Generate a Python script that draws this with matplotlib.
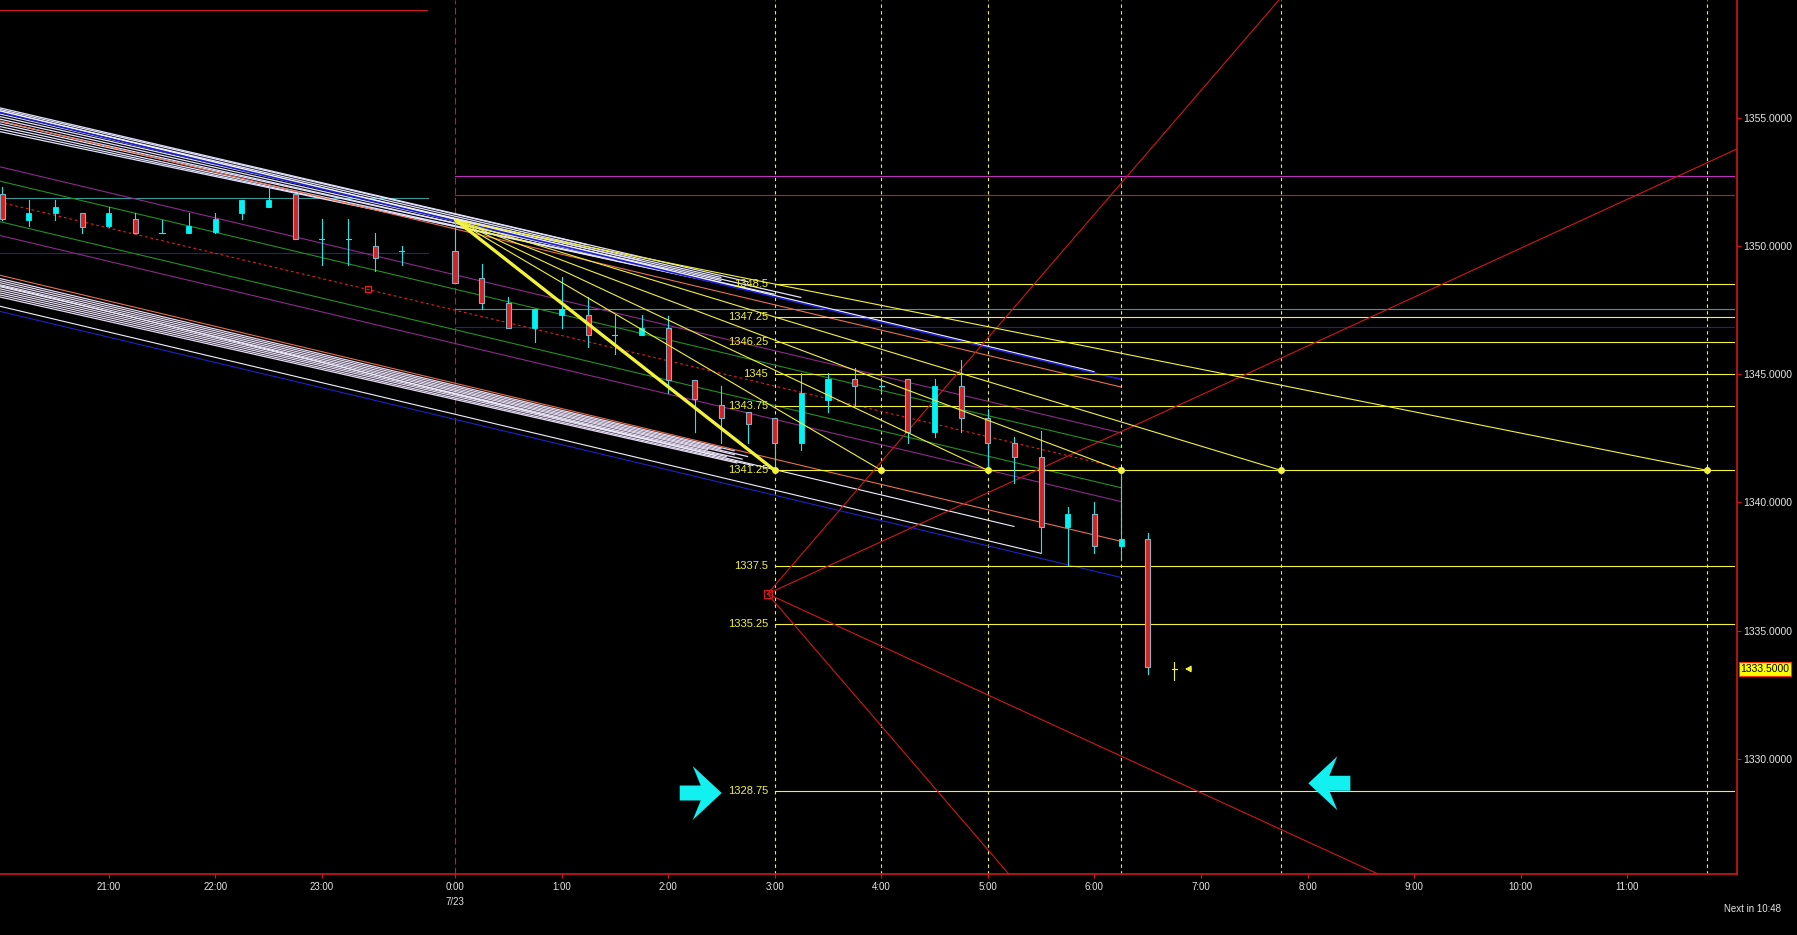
import matplotlib
matplotlib.use('Agg')
import matplotlib.pyplot as plt
import numpy as np
from matplotlib.patches import Rectangle, Polygon
from matplotlib import font_manager

# ---------------- data ----------------
bar_idx = list(range(-17, -1)) + list(range(0, 28))
opens  = [1352.02, 1351.02, 1351.28, 1351.28, 1350.79, 1351.05, 1350.52, 1350.52,
          1350.56, 1351.28, 1351.52, 1352.02, 1350.27, 1350.27, 1350.02, 1349.81,
          1349.81, 1348.77, 1347.77, 1346.79, 1347.31, 1347.31, 1346.53, 1346.53,
          1346.79, 1344.78, 1343.80, 1343.54, 1343.28, 1342.31, 1344.00, 1344.80,
          1344.54, 1344.80, 1342.76, 1344.54, 1343.28, 1342.31, 1341.78, 1339.03,
          1339.55, 1338.30, 1338.56, 1333.50]
highs  = [1352.30, 1351.80, 1351.80, 1351.30, 1351.54, 1351.30, 1351.02, 1351.28,
          1351.28, 1351.80, 1352.30, 1352.02, 1351.05, 1351.05, 1350.52, 1350.02,
          1351.00, 1349.30, 1348.03, 1347.55, 1348.78, 1348.00, 1347.31, 1347.31,
          1347.27, 1344.78, 1344.54, 1343.54, 1343.28, 1345.04, 1345.04, 1345.23,
          1344.80, 1344.80, 1344.80, 1345.56, 1343.63, 1342.54, 1342.80, 1339.81,
          1340.03, 1341.20, 1338.80, 1333.79]
lows   = [1351.02, 1350.79, 1351.02, 1350.52, 1350.74, 1350.52, 1350.52, 1350.52,
          1350.52, 1351.05, 1351.52, 1350.28, 1349.26, 1349.26, 1349.04, 1349.26,
          1348.55, 1347.54, 1346.79, 1346.27, 1346.79, 1346.08, 1345.79, 1346.53,
          1344.28, 1342.76, 1342.31, 1342.31, 1341.29, 1342.05, 1343.54, 1343.80,
          1344.30, 1342.31, 1342.54, 1342.76, 1341.29, 1340.77, 1338.04, 1337.56,
          1338.04, 1337.75, 1333.31, 1333.07]
closes = [1351.06, 1351.28, 1351.54, 1350.76, 1351.28, 1350.52, 1350.52, 1350.79,
          1351.05, 1351.80, 1351.80, 1350.28, 1350.27, 1350.27, 1349.53, 1349.81,
          1348.55, 1347.77, 1346.79, 1347.55, 1347.55, 1346.53, 1346.53, 1346.79,
          1344.78, 1344.02, 1343.28, 1343.06, 1342.31, 1344.28, 1344.80, 1344.54,
          1344.54, 1342.76, 1344.54, 1343.28, 1342.31, 1341.78, 1339.03, 1339.55,
          1338.30, 1338.56, 1333.57, 1333.50]

x_tick_pos = [-13, -9, -5, 0, 4, 8, 12, 16, 20, 24, 28, 32, 36, 40, 44]
x_tick_lbl = ['21:00', '22:00', '23:00', '0:00', '1:00', '2:00', '3:00', '4:00',
              '5:00', '6:00', '7:00', '8:00', '9:00', '10:00', '11:00']
y_ticks = [1330, 1335, 1340, 1345, 1350, 1355]
last_price = 1333.5

# regression channel: centre line
chan_end_val = 1341.33      # centre value at bar 25
chan_slope = -0.2467        # price per bar
chan_end = 25
mid_offsets = {'green': (0.82, -0.76), 'purple': (1.38, -1.30)}
upper_orange = 3.17
upper_blue = 3.50
upper_white_main = 3.56
upper_dense_left = [2.75, 2.85, 2.95, 3.05, 3.14, 3.24, 3.34, 3.44, 3.54, 3.62, 3.68]
upper_dense_right = [3.45, 3.48, 3.52, 3.55, 3.58, 3.62, 3.66, 3.70, 3.74, 3.78, 3.82]
upper_dense_end = [6, 9, 11, 8, 12, 10, 7, 13, 10, 5, 11]
lower_orange = -2.85
lower_blue = -4.26
lower_white_a = -3.26
lower_white_b = -4.06
lower_dense_left = [-2.98, -3.06, -3.14, -3.22, -3.30, -3.38, -3.46, -3.54, -3.62, -3.70]
lower_dense_right = [-2.90, -2.95, -3.00, -3.05, -3.10, -3.15, -3.20, -3.25, -3.30, -3.35]
lower_dense_end = [10.5, 10.0, 11.0, 10.5, 9.5, 10.8, 10.2, 9.8, 11.2, 10.6]
sq_marker_x = -3.28

# yellow fan
fan_origin = (0.04, 1351.0)
fan_targets_x = [12, 16, 20, 25, 31, 47]
fan_target_y = 1341.25
level_vals = [1348.5, 1347.25, 1346.25, 1345, 1343.75, 1341.25, 1337.5, 1335.25, 1328.75]
level_lbls = ['1348.5', '1347.25', '1346.25', '1345', '1343.75', '1341.25', '1337.5', '1335.25', '1328.75']
level_start = 12
vlines_yellow = [12, 16, 20, 25, 31, 47]

# red gann fan
gann_origin = (11.73, 1336.43)
gann_slopes = [1.207, 0.477, -0.477, -1.207]

# horizontal lines: (price, x_from, x_to, colour)
hlines = [(1359.2, -17.2, -1.07, '#d01818'),
          (1351.87, -17.2, -1.02, '#3a9a9a'),
          (1349.72, -17.2, -1.02, '#1c1cb0'),
          (1352.72, 0.0, 48.0, '#c030c0'),
          (1352.0, 0.0, 48.0, '#d01818'),
          (1347.55, 0.0, 48.0, '#3a9a9a'),
          (1346.84, 0.0, 48.0, '#1c1cb0')]

# cyan arrows (tip positions)
arrow_right_tip = (10.01, 1328.66)
arrow_left_tip = (32.03, 1329.04)

# ---------------- fonts ----------------
names = {f.name for f in font_manager.fontManager.ttflist}
FONT = 'Liberation Sans' if 'Liberation Sans' in names else 'DejaVu Sans'
plt.rcParams['font.family'] = [FONT, 'DejaVu Sans']

# ---------------- figure ----------------
W, H = 1797, 935
fig = plt.figure(figsize=(W / 100, H / 100), dpi=100, facecolor='black')
ax = fig.add_axes([0, 61 / H, 1737 / W, 874 / H], facecolor='black')
XL, XR = -17.08, 48.12
YB, YT = 1325.50, 1359.60
ax.set_xlim(XL, XR)
ax.set_ylim(YB, YT)
px_x = (XR - XL) / 1737.0
px_y = (YT - YB) / 874.0

RED = '#d01818'
YEL = '#f2f23a'
LW = 0.8


def center(x):
    return chan_end_val + chan_slope * (np.asarray(x, dtype=float) - chan_end)


def chan(off_l, off_r, x_end, **kw):
    xs = np.array([XL - 0.1, x_end])
    ys = center(xs) + np.array([off_l, off_r])
    ax.plot(xs, ys, solid_capstyle='butt', **kw)


# vertical dashed lines
ax.axvline(0, color=RED, lw=LW, dashes=(6, 3), zorder=1)
for vx in vlines_yellow:
    ax.axvline(vx, color=YEL, lw=LW, dashes=(3, 3), zorder=1)

# horizontal lines
for p, x0, x1, c in hlines:
    ax.plot([x0, x1], [p, p], color=c, lw=LW, zorder=1.5)

# channel lines
for off_l, off_r, xe in zip(upper_dense_left, upper_dense_right, upper_dense_end):
    chan(off_l, off_r, xe, color='#e2e2ff', lw=0.9, zorder=2)
for off_l, off_r, xe in zip(lower_dense_left, lower_dense_right, lower_dense_end):
    chan(off_l, off_r, xe, color='#e6dcf4', lw=0.9, zorder=2)
chan(upper_white_main, upper_white_main - 0.05, 24, color='#f4f4ff', lw=1.2, zorder=2)
chan(upper_blue, upper_blue - 0.03, chan_end, color='#2020d0', lw=1.2, zorder=2.1)
chan(upper_orange, upper_orange, chan_end, color='#e87050', lw=LW, zorder=2)
chan(lower_orange, lower_orange, chan_end, color='#e87050', lw=LW, zorder=2)
chan(lower_white_a, lower_white_a, 21, color='#f0f0ff', lw=LW, zorder=2)
chan(lower_white_b, lower_white_b, 22, color='#f0f0ff', lw=LW, zorder=2)
chan(lower_blue, lower_blue, chan_end, color='#2020c8', lw=LW, zorder=2)
chan(mid_offsets['green'][0], mid_offsets['green'][0], chan_end, color='#239023', lw=LW, zorder=2)
chan(mid_offsets['green'][1], mid_offsets['green'][1], chan_end, color='#239023', lw=LW, zorder=2)
chan(mid_offsets['purple'][0], mid_offsets['purple'][0], chan_end, color='#8c2a8c', lw=LW, zorder=2)
chan(mid_offsets['purple'][1], mid_offsets['purple'][1], chan_end, color='#8c2a8c', lw=LW, zorder=2)
xs_c = np.array([XL - 0.1, chan_end])
ax.plot(xs_c, center(xs_c), color='#e02020', lw=LW, dashes=(2.5, 2.5), zorder=2)
ax.plot([sq_marker_x], [center(sq_marker_x)], marker='s', ms=5, mfc='none', mec='#e02020',
        mew=1, zorder=5)

# yellow levels with labels
for v, lbl in zip(level_vals, level_lbls):
    ax.plot([level_start, 48.0], [v, v], color=YEL, lw=LW, zorder=2.5)
    ax.text(level_start - 0.25, v, lbl, color=YEL, fontsize=8, ha='right', va='center', zorder=6)

# yellow fan
ox, oy = fan_origin
for i, tx in enumerate(fan_targets_x):
    ax.plot([ox, tx], [oy, fan_target_y], color=YEL, lw=2.4 if i == 0 else LW, zorder=4)
ax.plot(fan_targets_x, [fan_target_y] * len(fan_targets_x), ls='none', marker='o', ms=4,
        color=YEL, zorder=6)

# red gann fan
gx, gy = gann_origin
for s in gann_slopes:
    xe = XR + 1
    ax.plot([gx, xe], [gy, gy + s * (xe - gx)], color=RED, lw=LW, zorder=2.6)
ax.plot([gx], [gy], marker='s', ms=6, mfc='none', mec=RED, mew=1, zorder=5)

# candles
bw = 0.19
for xi, o, h, l, c in zip(bar_idx, opens, highs, lows, closes):
    last = xi == bar_idx[-1]
    wick_c = YEL if last else '#20e8e8'
    ax.plot([xi, xi], [l, h], color=wick_c, lw=LW, zorder=3)
    if abs(c - o) < 0.02:
        ax.plot([xi - bw / 2, xi + bw / 2], [o, o], color=wick_c, lw=LW, zorder=3.1)
    elif c > o:
        ax.add_patch(Rectangle((xi - bw / 2, o), bw, c - o, facecolor='#00f4f4',
                               edgecolor='#00f4f4', lw=0.6, zorder=3.1))
    else:
        ax.add_patch(Rectangle((xi - bw / 2, c), bw, o - c, facecolor='#dc2020',
                               edgecolor='#80b4c4', lw=0.8, zorder=3.1))

# small yellow arrow at the current bar
ax.annotate('', xy=(bar_idx[-1] + 0.3, last_price), xytext=(bar_idx[-1] + 0.75, last_price),
            arrowprops=dict(arrowstyle='-|>,head_length=0.35,head_width=0.2', color=YEL, lw=0.8),
            zorder=6)


# cyan block arrows
def block_arrow(tip, direction):
    tx, ty = tip
    pts_px = [(0, 0), (-29, 27), (-21, 7.5), (-42, 7.5), (-42, -7.5), (-21, -7.5), (-29, -27)]
    pts = [(tx + direction * dx * px_x, ty + dy * px_y) for dx, dy in pts_px]
    ax.add_patch(Polygon(pts, closed=True, facecolor='#12f0f0', edgecolor='none', zorder=7))


block_arrow(arrow_right_tip, 1)
block_arrow(arrow_left_tip, -1)

# axes styling
for side in ('left', 'top'):
    ax.spines[side].set_visible(False)
for side in ('right', 'bottom'):
    ax.spines[side].set_color(RED)
    ax.spines[side].set_linewidth(1.2)
ax.yaxis.tick_right()
ax.set_yticks(y_ticks)
ax.set_yticklabels([f'{v:.4f}' for v in y_ticks])
ax.set_xticks(x_tick_pos)
ax.set_xticklabels(x_tick_lbl)
ax.tick_params(axis='y', direction='out', length=3, width=0.8, color=RED,
               labelcolor='#e6e6e6', labelsize=7.5, pad=1.5)
ax.tick_params(axis='x', direction='out', length=3, width=0.8, color=RED,
               labelcolor='#e6e6e6', labelsize=7, pad=3)
ax.annotate('7/23', xy=(0, 0), xycoords=('data', 'axes fraction'), xytext=(0, -20),
            textcoords='offset points', ha='center', va='center', color='#e6e6e6',
            fontsize=7, annotation_clip=False)
ax.annotate(f'{last_price:.4f}', xy=(1, last_price), xycoords=('axes fraction', 'data'),
            xytext=(2.5, 0), textcoords='offset points', ha='left', va='center',
            color='black', fontsize=7.5, annotation_clip=False,
            bbox=dict(boxstyle='square,pad=0.18', fc='#ffff00', ec='#ff3000', lw=0.8))
fig.text(1753 / W, 1 - 909 / H, 'Next in 10:48', color='#e6e6e6', fontsize=7,
         ha='center', va='center')

fig.savefig('out.png', dpi=100, facecolor='black')
